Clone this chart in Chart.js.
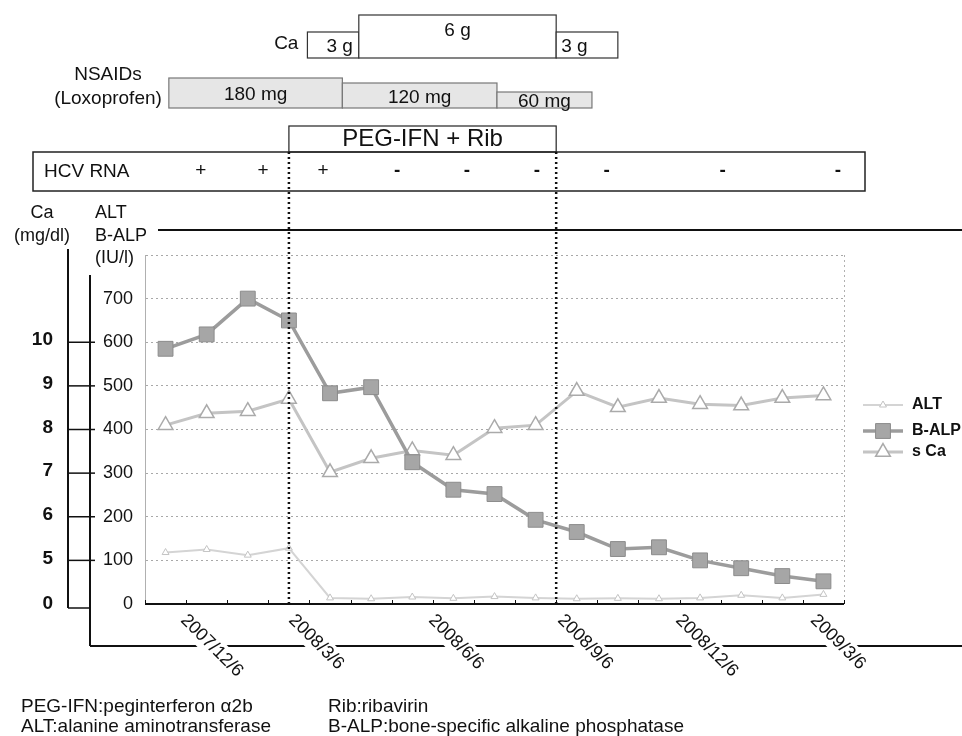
<!DOCTYPE html>
<html>
<head>
<meta charset="utf-8">
<script src="https://cdn.jsdelivr.net/npm/chart.js@4.4.1/dist/chart.umd.min.js"></script>
<style>
  html, body { margin: 0; padding: 0; background: #fff; }
</style>
</head>
<body>
<canvas id="chart" width="962" height="736"></canvas>
<script>
// visits (evenly spaced on the chart)
var visits = ['1', '2', '3', '4', '5', '6', '7', '8', '9', '10', '11', '12', '13', '14', '15', '16', '17'];

// IU/l
var altValues  = [118, 125, 112, 128, 14, 12, 16, 13, 17, 14, 12, 13, 12, 14, 20, 14, 22];
var balpValues = [585, 618, 700, 650, 483, 497, 325, 262, 252, 193, 165, 126, 130, 100, 82, 64, 52];
// mg/dl
var caValues   = [8.1, 8.37, 8.42, 8.7, 7.02, 7.34, 7.52, 7.41, 8.03, 8.1, 8.88, 8.51, 8.72, 8.58, 8.55, 8.72, 8.78];

var altTicks = [0, 100, 200, 300, 400, 500, 600, 700];
var caTicks  = [10, 9, 8, 7, 6, 5];

// date labels and where they sit along the visit axis
var dateTicks  = ['2007/12/6', '2008/3/6', '2008/6/6', '2008/9/6', '2008/12/6', '2009/3/6'];
var dateTickAt = [0.59, 3.22, 6.62, 9.76, 12.63, 15.91];

// treatment periods (in visit units)
var caDose      = ['3 g', '6 g', '3 g'];
var caDoseSpan  = [[3.45, 4.7], [4.7, 9.5], [9.5, 11]];
var nsaidDose   = ['180 mg', '120 mg', '60 mg'];
var nsaidSpan   = [[0.08, 4.3], [4.3, 8.06], [8.06, 10.37]];
var pegSpan     = [3, 9.5];
var hcvMarks    = ['+', '+', '+', '-', '-', '-', '-', '-', '-'];
var hcvAt       = [0.86, 2.37, 3.83, 5.63, 7.33, 9.03, 10.73, 13.55, 16.35];

var FONT = "'Liberation Sans', Arial, sans-serif";

function txt(c, s, x, y, align, size, bold) {
    c.font = (bold ? 'bold ' : '') + size + 'px ' + FONT;
    c.textAlign = align;
    c.textBaseline = 'middle';
    c.fillStyle = '#111';
    c.fillText(s, x, y);
}

function seg(c, x0, y0, x1, y1) {
    c.beginPath();
    c.moveTo(x0, y0);
    c.lineTo(x1, y1);
    c.stroke();
}

function marker(c, style, x, y, r, fill, stroke, lw) {
    c.beginPath();
    if (style === 'rect') {
        var s = r * Math.SQRT1_2;
        c.rect(x - s, y - s, 2 * s, 2 * s);
    } else {
        for (var k = 0; k < 3; k++) {
            var a = k * 2 * Math.PI / 3;
            var px = x + Math.sin(a) * r, py = y - Math.cos(a) * r;
            if (k === 0) c.moveTo(px, py); else c.lineTo(px, py);
        }
        c.closePath();
    }
    c.fillStyle = fill;
    c.fill();
    c.lineWidth = lw;
    c.strokeStyle = stroke;
    c.stroke();
}

var decor = {
    id: 'decor',
    beforeDraw: function(chart) {
        var c = chart.ctx;
        c.save();
        c.fillStyle = '#fff';
        c.fillRect(0, 0, chart.width, chart.height);
        c.restore();
    },
    afterDraw: function(chart) {
        var c = chart.ctx;
        var xs = chart.scales.x, yCa = chart.scales.yCa, area = chart.chartArea;
        var px = function(i) { return xs.getPixelForValue(i); };
        c.save();

        // right frame of the plot
        c.strokeStyle = '#b0b0b0';
        c.lineWidth = 1;
        c.setLineDash([2, 3]);
        seg(c, area.right + 0.5, area.top, area.right + 0.5, area.bottom);
        c.setLineDash([]);

        // x axis with small ticks between visits
        c.strokeStyle = '#111';
        c.lineWidth = 2;
        seg(c, area.left, area.bottom, area.right, area.bottom);
        c.lineWidth = 1;
        for (var i = 0; i <= visits.length; i++) {
            var tx = Math.round(px(i - 0.5)) + 0.5;
            seg(c, tx, area.bottom, tx, area.bottom - 4);
        }

        // outer frame lines
        c.lineWidth = 2;
        seg(c, 158, 230, 962, 230);
        seg(c, 68, 249, 68, yCa.getPixelForValue(4) + 4);
        seg(c, 90, 275, 90, 646);
        seg(c, 90, 646, 962, 646);

        // Ca axis ticks + labels
        c.lineWidth = 1.5;
        caTicks.forEach(function(v) {
            var ty = yCa.getPixelForValue(v);
            seg(c, 68, ty, 95, ty);
            txt(c, String(v), 53, ty - 2, 'right', 19, true);
        });
        var zy = yCa.getPixelForValue(4) + 4;
        seg(c, 68, zy, 90, zy);
        txt(c, '0', 53, zy - 4, 'right', 19, true);

        // axis titles
        txt(c, 'Ca', 42, 213, 'center', 18);
        txt(c, '(mg/dl)', 42, 236, 'center', 18);
        txt(c, 'ALT', 95, 213, 'left', 18);
        txt(c, 'B-ALP', 95, 236, 'left', 18);
        txt(c, '(IU/l)', 95, 258, 'left', 18);

        // Ca dose row
        c.strokeStyle = '#333';
        c.lineWidth = 1.2;
        caDose.forEach(function(lbl, k) {
            var x0 = px(caDoseSpan[k][0]), x1 = px(caDoseSpan[k][1]);
            var top = lbl === '6 g' ? 15 : 32;
            c.fillStyle = '#fff';
            c.fillRect(x0, top, x1 - x0, 58 - top);
            c.strokeRect(x0, top, x1 - x0, 58 - top);
            if (k === 0) txt(c, lbl, x1 - 6, 47, 'right', 19);
            else if (k === 2) txt(c, lbl, x0 + 5, 47, 'left', 19);
            else txt(c, lbl, (x0 + x1) / 2, 31, 'center', 19);
        });
        txt(c, 'Ca', px(caDoseSpan[0][0]) - 9, 44, 'right', 19);

        // NSAIDs row
        c.strokeStyle = '#777';
        var tops = [78, 83, 92];
        nsaidDose.forEach(function(lbl, k) {
            var x0 = px(nsaidSpan[k][0]), x1 = px(nsaidSpan[k][1]);
            c.fillStyle = '#e6e6e6';
            c.fillRect(x0, tops[k], x1 - x0, 108 - tops[k]);
            c.strokeRect(x0, tops[k], x1 - x0, 108 - tops[k]);
            txt(c, lbl, (x0 + x1) / 2, (tops[k] + 108) / 2 + 2, 'center', 19);
        });
        txt(c, 'NSAIDs', 108, 75, 'center', 19);
        txt(c, '(Loxoprofen)', 108, 99, 'center', 19);

        // PEG-IFN + Rib
        c.strokeStyle = '#222';
        var p0 = px(pegSpan[0]), p1 = px(pegSpan[1]);
        c.strokeRect(p0, 126, p1 - p0, 26);
        txt(c, 'PEG-IFN + Rib', (p0 + p1) / 2, 139, 'center', 24);

        // HCV RNA row
        c.lineWidth = 1.5;
        c.strokeRect(33, 152, 865 - 33, 39);
        txt(c, 'HCV RNA', 44, 172, 'left', 19);
        hcvMarks.forEach(function(m, k) {
            txt(c, m, px(hcvAt[k]), 171, 'center', 19, m === '-');
        });

        // treatment start / end dotted lines
        c.strokeStyle = '#111';
        c.lineWidth = 2.5;
        c.setLineDash([2, 3]);
        pegSpan.forEach(function(v) {
            var lx = px(v);
            seg(c, lx, 152, lx, area.bottom);
        });
        c.setLineDash([]);

        // rotated date labels
        c.font = '18px ' + FONT;
        dateTicks.forEach(function(lbl, k) {
            var ax = px(dateTickAt[k]);
            c.save();
            c.translate(ax, 611);
            c.rotate(Math.PI / 4);
            var w = c.measureText(lbl).width;
            c.fillStyle = '#fff';
            c.fillRect(-6, -2, w + 12, 22);
            c.fillStyle = '#111';
            c.textAlign = 'left';
            c.textBaseline = 'top';
            c.fillText(lbl, 0, 0);
            c.restore();
        });

        // legend
        var ly = [405, 431, 452];
        chart.data.datasets.forEach(function(ds, k) {
            c.strokeStyle = ds.borderColor;
            c.lineWidth = ds.borderWidth;
            seg(c, 863, ly[k], 903, ly[k]);
            marker(c, ds.pointStyle, 883, ly[k], ds.pointRadius, ds.pointBackgroundColor, ds.pointBorderColor, ds.pointBorderWidth);
            txt(c, ds.label, 912, ly[k], 'left', 16, true);
        });

        // footnotes
        txt(c, 'PEG-IFN:peginterferon \u03b12b', 21, 707, 'left', 19);
        txt(c, 'ALT:alanine aminotransferase', 21, 727, 'left', 19);
        txt(c, 'Rib:ribavirin', 328, 707, 'left', 19);
        txt(c, 'B-ALP:bone-specific alkaline phosphatase', 328, 727, 'left', 19);

        c.restore();
    }
};

var ctx = document.getElementById('chart');
var chart = new Chart(ctx, {
    type: 'line',
    data: {
        labels: visits,
        datasets: [
            {
                label: 'ALT',
                data: altValues,
                yAxisID: 'y',
                borderColor: '#d4d4d4',
                borderWidth: 2,
                pointStyle: 'triangle',
                pointRadius: 4,
                pointBackgroundColor: '#fff',
                pointBorderColor: '#c4c4c4',
                pointBorderWidth: 1,
                tension: 0
            },
            {
                label: 'B-ALP',
                data: balpValues,
                yAxisID: 'y',
                borderColor: '#9c9c9c',
                borderWidth: 3.5,
                pointStyle: 'rect',
                pointRadius: 10.5,
                pointBackgroundColor: '#a6a6a6',
                pointBorderColor: '#8c8c8c',
                pointBorderWidth: 1,
                tension: 0
            },
            {
                label: 's Ca',
                data: caValues,
                yAxisID: 'yCa',
                borderColor: '#c4c4c4',
                borderWidth: 3,
                pointStyle: 'triangle',
                pointRadius: 8.5,
                pointBackgroundColor: '#fff',
                pointBorderColor: '#aaaaaa',
                pointBorderWidth: 1.5,
                tension: 0
            }
        ]
    },
    options: {
        responsive: false,
        animation: false,
        devicePixelRatio: 1,
        layout: { padding: { left: 90, right: 118, top: 255, bottom: 132 } },
        plugins: {
            legend: { display: false },
            tooltip: { enabled: false }
        },
        scales: {
            x: { type: 'category', display: false, offset: true },
            y: {
                position: 'left',
                min: 0,
                max: 800,
                afterFit: function(s) { s.width = 55; },
                ticks: {
                    stepSize: 100,
                    padding: 12,
                    color: '#111',
                    font: { family: FONT, size: 18 },
                    callback: function(v) { return altTicks.indexOf(v) >= 0 ? String(v) : ''; }
                },
                grid: { color: '#a8a8a8', lineWidth: 1, drawTicks: false },
                border: { display: true, color: '#b0b0b0', dash: [2, 3] }
            },
            yCa: { display: false, min: 4, max: 12 }
        }
    },
    plugins: [decor]
});
</script>
</body>
</html>
